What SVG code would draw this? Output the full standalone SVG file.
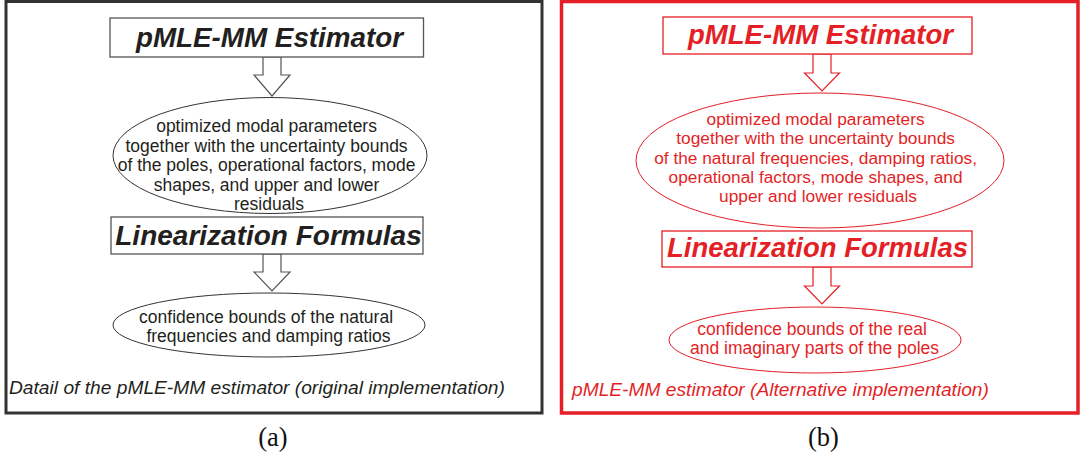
<svg xmlns="http://www.w3.org/2000/svg" width="1080" height="456" viewBox="0 0 1080 456">
<style>
.bg{fill:#ffffff}
.frameA{fill:none;stroke:#333333;stroke-width:3}
.frameB{fill:none;stroke:#e41f26;stroke-width:3.5}
.boxA{fill:#ffffff;stroke:#555555;stroke-width:1.3}
.boxB{fill:#ffffff;stroke:#e41f26;stroke-width:1.3}
.ellA{fill:#ffffff;stroke:#333333;stroke-width:1}
.ellB{fill:#ffffff;stroke:#e41f26;stroke-width:1}
.arrA{fill:#ffffff;stroke:#555555;stroke-width:1.2;stroke-linejoin:miter}
.arrB{fill:#ffffff;stroke:#e41f26;stroke-width:1.2;stroke-linejoin:miter}
.title{font-family:"Liberation Sans",Arial,sans-serif;font-weight:bold;font-style:italic;text-anchor:middle}
.body{font-family:"Liberation Sans",Arial,sans-serif;font-size:17.5px;text-anchor:middle}
.cap{font-family:"Liberation Sans",Arial,sans-serif;font-style:italic;font-size:19.2px}
.sub{font-family:"Liberation Serif","Times New Roman",serif;font-size:26.5px;text-anchor:middle;fill:#111111}
.tA{fill:#231f20}
.tB{fill:#e41f26}
</style>
<rect class="bg" x="0" y="0" width="1080" height="456"/>

<g id="panel-a">
  <rect class="frameA" x="6" y="1.5" width="536" height="411.5"/>
</g>
<g id="panel-b">
  <rect class="frameB" x="561.5" y="1.5" width="516.5" height="411.5"/>
</g>

<g id="connectors">
  <polygon class="arrA" points="263,57 281,57 281,75 290,75 272,96 254,75 263,75"/>
  <polygon class="arrA" points="263,254 281,254 281,272 290,272 272,291 254,272 263,272"/>
  <polygon class="arrB" points="813,54 831,54 831,73 839.5,73 822,91 804.5,73 813,73"/>
  <polygon class="arrB" points="813,267 831,267 831,286 839.5,286 822,304 804.5,286 813,286"/>
</g>

<g id="a-estimator">
  <rect class="boxA" x="110" y="18" width="313.5" height="39"/>
  <text class="title tA" x="269.5" y="46.5" font-size="27.8">pMLE-MM Estimator</text>
</g>
<g id="a-params">
  <ellipse class="ellA" cx="270" cy="155.5" rx="157" ry="58"/>
  <text class="body tA">
    <tspan x="269" y="132">optimized modal parameters</tspan>
    <tspan x="269" y="151.5">together with the uncertainty bounds</tspan>
    <tspan x="269" y="171">of the poles, operational factors, mode</tspan>
    <tspan x="269" y="190.5">shapes, and upper and lower</tspan>
    <tspan x="269" y="210">residuals</tspan>
  </text>
</g>
<g id="a-linearization">
  <rect class="boxA" x="111" y="217" width="312" height="37"/>
  <text class="title tA" x="268.5" y="245" font-size="28">Linearization Formulas</text>
</g>
<g id="a-confidence">
  <ellipse class="ellA" cx="269" cy="325" rx="156" ry="32"/>
  <text class="body tA">
    <tspan x="268.5" y="323">confidence bounds of the natural</tspan>
    <tspan x="268.5" y="342">frequencies and damping ratios</tspan>
  </text>
</g>
<g id="a-caption">
  <text class="cap tA" x="9" y="394">Datail of the pMLE-MM estimator (original implementation)</text>
</g>

<g id="b-estimator">
  <rect class="boxB" x="663" y="17" width="309" height="37"/>
  <text class="title tB" x="820.5" y="44" font-size="27.6">pMLE-MM Estimator</text>
</g>
<g id="b-params">
  <ellipse class="ellB" cx="820" cy="160.5" rx="184" ry="67.5"/>
  <text class="body tB" style="font-size:17.3px">
    <tspan x="818" y="125">optimized modal parameters</tspan>
    <tspan x="818" y="144">together with the uncertainty bounds</tspan>
    <tspan x="818" y="163.5">of the natural frequencies, damping ratios,</tspan>
    <tspan x="818" y="182.5">operational factors, mode shapes, and</tspan>
    <tspan x="818" y="202">upper and lower residuals</tspan>
  </text>
</g>
<g id="b-linearization">
  <rect class="boxB" x="662" y="231" width="310" height="36"/>
  <text class="title tB" x="817.5" y="257" font-size="27.5">Linearization Formulas</text>
</g>
<g id="b-confidence">
  <ellipse class="ellB" cx="815" cy="340" rx="146" ry="33"/>
  <text class="body tB">
    <tspan x="814.5" y="335">confidence bounds of the real</tspan>
    <tspan x="814.5" y="353.5">and imaginary parts of the poles</tspan>
  </text>
</g>
<g id="b-caption">
  <text class="cap tB" x="572" y="396">pMLE-MM estimator (Alternative implementation)</text>
</g>

<text class="sub" x="273" y="446">(a)</text>
<text class="sub" x="823.5" y="446">(b)</text>
</svg>
